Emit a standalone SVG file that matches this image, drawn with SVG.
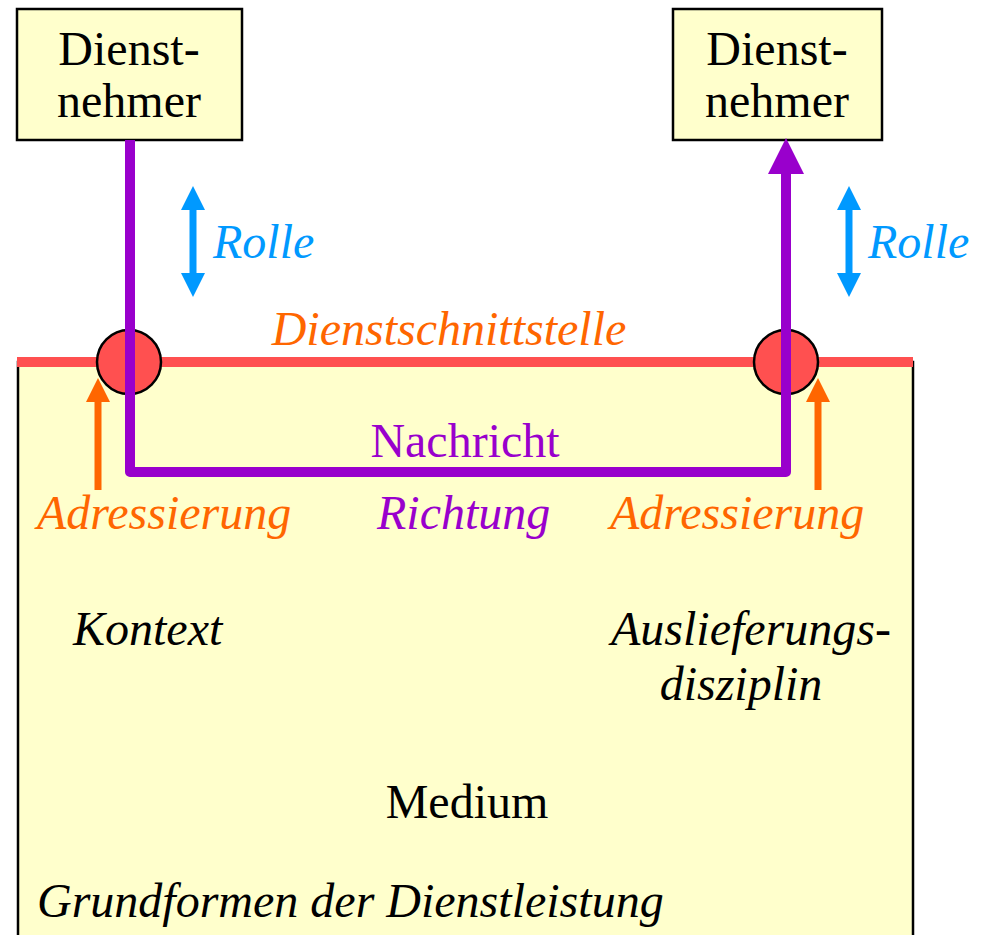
<svg xmlns="http://www.w3.org/2000/svg" width="982" height="935" viewBox="0 0 982 935">
<style>
text{font-family:"Liberation Serif","Times New Roman",serif;font-size:48px}
.it{font-style:italic}
.box{fill:#FFFFCC;stroke:#000;stroke-width:2.5}
.or{fill:#FF6600}
.pu{fill:#9900CC}
.bl{fill:#0099FF}
</style>
<g id="medium">
<rect x="18" y="362" width="895" height="590" fill="#FFFFCC" stroke="#000" stroke-width="2.5"/>
<text x="467" y="818" text-anchor="middle">Medium</text>
<text class="it" x="37" y="917">Grundformen der Dienstleistung</text>
<text class="it" x="73" y="645">Kontext</text>
<text class="it" x="751" y="645" text-anchor="middle">Auslieferungs-</text>
<text class="it" x="741" y="700" text-anchor="middle">disziplin</text>
</g>
<g id="schnittstelle">
<line x1="17" y1="362" x2="913" y2="362" stroke="#FF5050" stroke-width="10"/>
<text class="it or" x="449" y="345" text-anchor="middle">Dienstschnittstelle</text>
</g>
<g id="sap-left"><circle cx="129" cy="362" r="32" fill="#FF5050" stroke="#000" stroke-width="2.5"/></g>
<g id="sap-right"><circle cx="786" cy="362" r="32" fill="#FF5050" stroke="#000" stroke-width="2.5"/></g>
<g id="dn-left">
<rect class="box" x="17" y="9" width="225" height="131"/>
<text x="129" y="65" text-anchor="middle">Dienst-</text>
<text x="129" y="117" text-anchor="middle">nehmer</text>
</g>
<g id="dn-right">
<rect class="box" x="673" y="9" width="209" height="131"/>
<text x="777" y="65" text-anchor="middle">Dienst-</text>
<text x="777" y="117" text-anchor="middle">nehmer</text>
</g>
<g id="connectors">
<path d="M130,140 L130,472 L786,472 L786,173" fill="none" stroke="#9900CC" stroke-width="10" stroke-linejoin="round"/>
<path d="M768,174 L786,138 L804,174 Z" fill="#9900CC"/>
<line x1="98" y1="490" x2="98" y2="400" stroke="#FF6600" stroke-width="7"/>
<path d="M86,402 L98,378 L110,402 Z" fill="#FF6600"/>
<line x1="818" y1="490" x2="818" y2="400" stroke="#FF6600" stroke-width="7"/>
<path d="M806,402 L818,378 L830,402 Z" fill="#FF6600"/>
<line x1="193" y1="207" x2="193" y2="276" stroke="#0099FF" stroke-width="7"/>
<path d="M181,210 L193,186 L205,210 Z M181,273 L193,297 L205,273 Z" fill="#0099FF"/>
<line x1="849" y1="207" x2="849" y2="276" stroke="#0099FF" stroke-width="7"/>
<path d="M837,210 L849,186 L861,210 Z M837,273 L849,297 L861,273 Z" fill="#0099FF"/>
</g>
<g id="labels">
<text class="it bl" x="213" y="258">Rolle</text>
<text class="it bl" x="868" y="258">Rolle</text>
<text class="pu" x="465" y="457" text-anchor="middle">Nachricht</text>
<text class="it or" x="37" y="529">Adressierung</text>
<text class="it pu" x="377" y="529">Richtung</text>
<text class="it or" x="610" y="529">Adressierung</text>
</g>
</svg>
